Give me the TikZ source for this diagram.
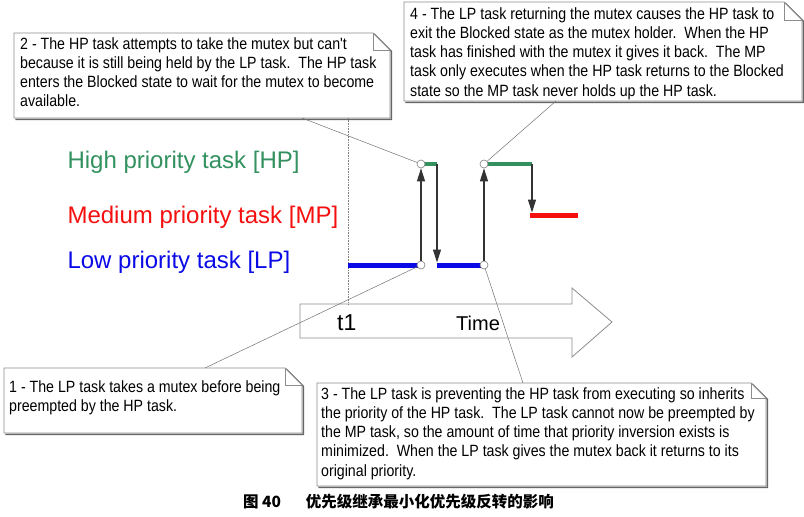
\documentclass[tikz,border=0pt]{standalone}
\usepackage{fontspec}
\setmainfont{Liberation Sans}
\newfontfamily\narrowfont[FakeStretch=0.87]{Liberation Sans}
\newfontfamily\cjkfont{Noto Sans CJK SC}
\usetikzlibrary{arrows.meta,backgrounds}
\definecolor{hpgreen}{RGB}{50,145,95}
\definecolor{mpred}{RGB}{245,15,15}
\definecolor{lpblue}{RGB}{10,10,230}
\tikzset{
  calltext/.style={font=\narrowfont\fontsize{16.3}{19.3}\selectfont, align=left, inner sep=0pt, anchor=north west},
  boxline/.style={draw=black!45, line width=0.8pt},
  boxshadow/.style={draw=black!60, line width=1.6pt},
  tailline/.style={draw=black!55, line width=0.5pt},
  label/.style={font=\fontsize{24}{28}\selectfont, anchor=base west},
  lpbar/.style={draw=lpblue, line width=5pt},
  hpbar/.style={draw=hpgreen, line width=4pt},
  mpbar/.style={draw=mpred, line width=5pt},
  sw/.style={draw=black!80, line width=1.1pt, -{Triangle[length=13pt,width=8pt]}},
  ring/.style={circle, draw=black!50, fill=white, line width=0.6pt, minimum size=8pt, inner sep=0pt},
}
\newcommand\foldbox[5]{% x1 y1 x2 y2 fold
  \draw[boxshadow] (#1+1.3,#2+1.3) -- (#3-#5+1.3,#2+1.3) -- (#3+1.3,#2+#5+1.3) -- (#3+1.3,#4+1.3) -- (#1+1.3,#4+1.3);
  \draw[boxline, fill=white] (#1,#2) -- (#3-#5,#2) -- (#3,#2+#5) -- (#3,#4) -- (#1,#4) -- cycle;
  \draw[boxline] (#3-#5,#2) -- (#3-#5,#2+#5) -- (#3,#2+#5);
}
\begin{document}
\begin{tikzpicture}[x=1pt,y=-1pt]
\useasboundingbox (0,0) rectangle (804,517);
\fill[white] (0,0) rectangle (804,517);

% time arrow
\draw[draw=black!45, line width=0.8pt] (300,304) -- (572,304) -- (572,288) -- (612,322) -- (572,357) -- (572,338) -- (300,338) -- cycle;
\node[font=\fontsize{23}{26}\selectfont, anchor=base west, inner sep=0pt] (t1) at (337,330) {t1};
\node[font=\fontsize{20}{24}\selectfont, anchor=base west, inner sep=0pt] (time) at (456,330) {Time};

% callout boxes
\foldbox{14}{33}{390}{118}{17}
\foldbox{404}{2}{802}{101}{18}
\foldbox{4}{368}{302}{433}{17}
\foldbox{317}{383}{766}{486}{15}

% task labels
\node[label, text=hpgreen] (lhp) at (64,168) {High priority task [HP]};
\node[label, text=mpred] (lmp) at (64,223) {Medium priority task [MP]};
\node[label, text=lpblue] (llp) at (64,268) {Low priority task [LP]};

% key points
\coordinate (lp1s) at (348,265);
\coordinate (hp1e) at (437,164);
\coordinate (lp2s) at (437,265);
\coordinate (hp2e) at (532,164);
\coordinate (mps)  at (530,215);
\coordinate (mpe)  at (578,215);
\coordinate (dtop) at (348,118);
\coordinate (dbot) at (348,304);

\draw[black!50, densely dotted, line width=0.6pt] (dtop) -- (dbot);

% bars
\draw[lpbar] (lp1s) -- (421,265);
\draw[lpbar] (lp2s) -- (484,265);
\draw[hpbar] (421,164) -- (hp1e);
\draw[hpbar] (484,164) -- (hp2e);
\draw[mpbar] (mps) -- (mpe);

\node[ring] (ra) at (421,265) {};
\node[ring] (rb) at (421,164) {};
\node[ring] (rc) at (484,265) {};
\node[ring] (rd) at (484,164) {};

% switches
\draw[sw] (ra) -- (rb);
\draw[sw] (hp1e) -- ([yshift=2.5pt]lp2s);
\draw[sw] (rc) -- (rd);
\draw[sw] (hp2e) -- (532,212.5);

% tails
\coordinate (tail2) at (302,118);
\coordinate (tail4) at (556,101);
\coordinate (tail1) at (205,368);
\coordinate (tail3) at (523,383);
\draw[tailline] (tail2) -- (rb);
\draw[tailline] (tail4) -- (rd);
\draw[tailline] (tail1) -- (ra);
\draw[tailline] (tail3) -- (rc);

% callout texts
\node[calltext] (c2) at (20,37) {2 - The HP task attempts to take the mutex but can't\\because it is still being held by the LP task.\ \ The HP task\\enters the Blocked state to wait for the mutex to become\\available.};
\node[calltext] (c4) at (410,7) {4 - The LP task returning the mutex causes the HP task to\\exit the Blocked state as the mutex holder.\ \ When the HP\\task has finished with the mutex it gives it back.\ \ The MP\\task only executes when the HP task returns to the Blocked\\state so the MP task never holds up the HP task.};
\node[calltext] (c1) at (9,380) {1 - The LP task takes a mutex before being\\preempted by the HP task.};
\node[calltext] (c3) at (321,387) {3 - The LP task is preventing the HP task from executing so inherits\\the priority of the HP task.\ \ The LP task cannot now be preempted by\\the MP task, so the amount of time that priority inversion exists is\\minimized.\ \ When the LP task gives the mutex back it returns to its\\original priority.};

% caption
\node[font=\cjkfont\bfseries\fontsize{15.5}{18}\selectfont, anchor=base west, inner sep=0pt] (cap) at (243,507) {图 40\hspace{1.6em}优先级继承最小化优先级反转的影响};
\end{tikzpicture}
\end{document}
